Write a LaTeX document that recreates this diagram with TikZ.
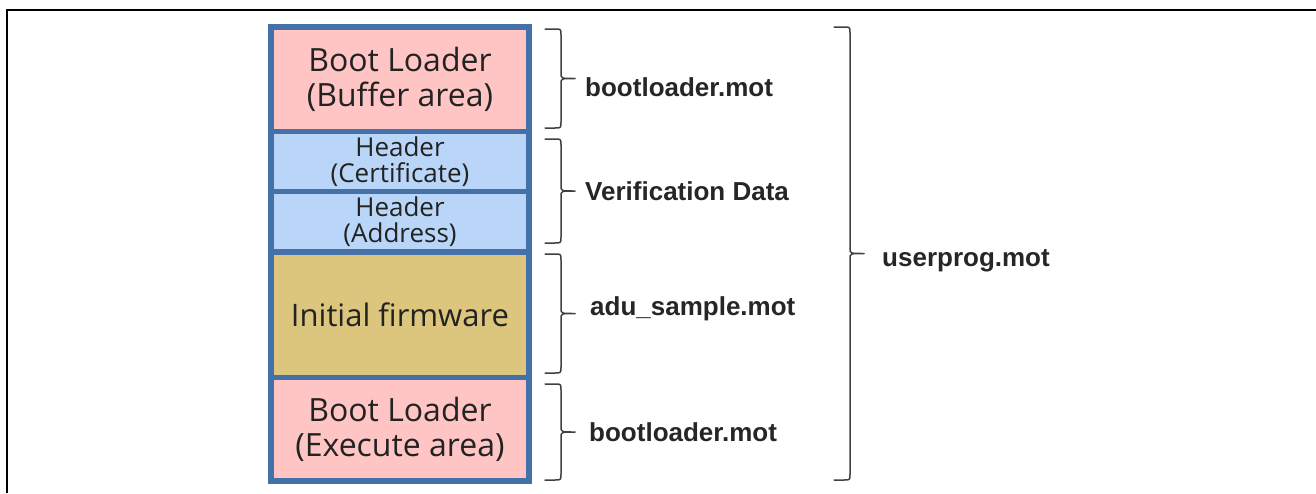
\documentclass[tikz,border=0pt]{standalone}
\usepackage{fontspec}
\setmainfont{Open Sans}
\newfontfamily\labelfont{Liberation Sans}
\definecolor{memedge}{RGB}{68,114,168}
\definecolor{bootfill}{RGB}{255,197,197}
\definecolor{headfill}{RGB}{185,214,248}
\definecolor{fwfill}{RGB}{220,198,126}
\definecolor{memtext}{RGB}{34,34,34}
\definecolor{lbltext}{RGB}{38,38,38}
\definecolor{bracec}{RGB}{64,64,64}
% right-hand curly bracket: #1 = x of its spine, #2 = top, #3 = bottom
\newcommand\curlyside[3]{%
  \draw[bracket]
    (#1-16,#2) -- (#1-6,#2) .. controls (#1,#2) .. (#1,#2+6)
    -- (#1,{(#2+#3)/2-5}) .. controls (#1,{(#2+#3)/2}) .. (#1+14,{(#2+#3)/2})
    .. controls (#1,{(#2+#3)/2}) .. (#1,{(#2+#3)/2+5})
    -- (#1,#3-6) .. controls (#1,#3) .. (#1-6,#3) -- (#1-16,#3);}
\begin{document}
\begin{tikzpicture}[x=1pt,y=-1pt,
  memsect/.style={draw=memedge,line width=5.5pt,rectangle,inner sep=0pt,
    minimum width=258pt,align=center,text=memtext},
  bigtext/.style={font=\fontsize{32}{35}\selectfont},
  smalltext/.style={font=\fontsize{26}{26}\selectfont},
  bracket/.style={draw=bracec,line width=1.5pt,line cap=round,line join=round},
  filelabel/.style={anchor=west,inner sep=0pt,text=lbltext,
    font=\labelfont\bfseries\fontsize{26}{28}\selectfont}]
  \useasboundingbox (0,0) rectangle (1316,493);
  % outer frame (top and left edges)
  \draw[line width=2.5pt] (7,493) -- (7,10) -- (1316,10);

  % memory map
  \node[memsect,bigtext,fill=bootfill,minimum height=104.5pt] (blbuf) at (400,79.25)
    {Boot Loader\\(Buffer area)};
  \node[memsect,smalltext,fill=headfill,minimum height=60pt] (hcert) at (400,161.5)
    {Header\\(Certificate)};
  \node[memsect,smalltext,fill=headfill,minimum height=60.5pt] (haddr) at (400,221.75)
    {Header\\(Address)};
  \node[memsect,fill=fwfill,minimum height=125.5pt,font=\fontsize{31}{35}\selectfont]
    (fw) at (400,314.75) {Initial firmware};
  \node[memsect,bigtext,fill=bootfill,minimum height=103.5pt] (blexe) at (400,429.25)
    {Boot Loader\\(Execute area)};

  % brackets and file names
  \curlyside{561}{29}{128}
  \node[filelabel] (f1) at (585,87) {bootloader.mot};
  \curlyside{561}{139}{243}
  \node[filelabel] (f2) at (585,191) {Verification Data};
  \curlyside{561}{254}{373}
  \node[filelabel] (f3) at (590,309) {adu\_sample.mot};
  \curlyside{561}{384}{480}
  \node[filelabel] (f4) at (589,432) {bootloader.mot};
  \curlyside{850}{27}{480}
  \node[filelabel] (f5) at (882,261) {userprog.mot};
\end{tikzpicture}
\end{document}
